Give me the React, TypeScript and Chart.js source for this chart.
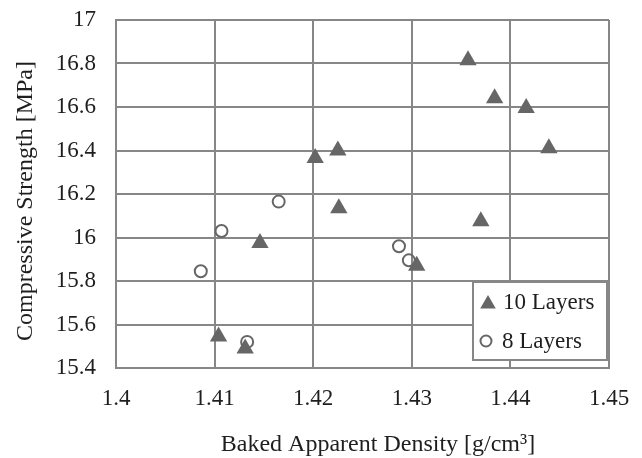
import React, { useEffect, useRef } from 'react';
import { Chart, registerables } from 'chart.js';

Chart.register(...registerables);

// ---- Data ----
const xTicks = [1.4, 1.41, 1.42, 1.43, 1.44, 1.45];
const xTickLabels = ['1.4', '1.41', '1.42', '1.43', '1.44', '1.45'];
const yTicks = [15.4, 15.6, 15.8, 16, 16.2, 16.4, 16.6, 16.8, 17];
const yTickLabels = ['15.4', '15.6', '15.8', '16', '16.2', '16.4', '16.6', '16.8', '17'];

const seriesNames = ['10 Layers', '8 Layers'];

const tenLayersX = [1.4357, 1.4384, 1.4416, 1.4439, 1.4202, 1.4225, 1.4226, 1.4146, 1.4370, 1.4305, 1.4104, 1.4131];
const tenLayersY = [16.815, 16.64, 16.595, 16.41, 16.365, 16.40, 16.135, 15.975, 16.075, 15.87, 15.545, 15.49];

const eightLayersX = [1.4165, 1.4107, 1.4086, 1.4133, 1.4287, 1.4297];
const eightLayersY = [16.165, 16.03, 15.845, 15.52, 15.96, 15.895];

const xAxisTitle = 'Baked Apparent Density [g/cm³]';
const yAxisTitle = 'Compressive Strength [MPa]';

const FONT = "'Liberation Serif', 'Times New Roman', serif";
const TEXT = '#1e1e1e';
const GRID = '#878787';
const MARK = '#666666';

const toPoints = (xs: number[], ys: number[]) => xs.map((x, i) => ({ x, y: ys[i] }));

const overlayPlugin = {
  id: 'overlay',
  afterDraw(chart: any) {
    const ctx = chart.ctx as CanvasRenderingContext2D;
    const area = chart.chartArea;
    ctx.save();
    // axis titles
    ctx.fillStyle = TEXT;
    ctx.font = `24px ${FONT}`;
    ctx.textAlign = 'center';
    ctx.textBaseline = 'alphabetic';
    ctx.fillText(xAxisTitle, 378, 451);
    ctx.save();
    ctx.translate(32, 201);
    ctx.rotate(-Math.PI / 2);
    ctx.fillText(yAxisTitle, 0, 0);
    ctx.restore();

    // legend box
    const bw = 134;
    const bh = 78;
    const bx = area.right - 2 - bw;
    const by = area.bottom - 8 - bh;
    ctx.fillStyle = '#ffffff';
    ctx.fillRect(bx, by, bw, bh);
    ctx.strokeStyle = GRID;
    ctx.lineWidth = 2;
    ctx.strokeRect(bx, by, bw, bh);

    // triangle marker
    const tx = bx + 15;
    const ty = by + 22;
    const r = 9;
    ctx.beginPath();
    ctx.moveTo(tx, ty - r);
    ctx.lineTo(tx + r * Math.sin((2 * Math.PI) / 3), ty + r / 2);
    ctx.lineTo(tx - r * Math.sin((2 * Math.PI) / 3), ty + r / 2);
    ctx.closePath();
    ctx.fillStyle = MARK;
    ctx.fill();

    // circle marker
    ctx.beginPath();
    ctx.arc(bx + 13, by + 59, 5.5, 0, Math.PI * 2);
    ctx.strokeStyle = MARK;
    ctx.lineWidth = 2;
    ctx.stroke();

    ctx.fillStyle = TEXT;
    ctx.font = `23px ${FONT}`;
    ctx.textAlign = 'left';
    ctx.textBaseline = 'alphabetic';
    ctx.fillText(seriesNames[0], bx + 30, by + 27);
    ctx.fillText(seriesNames[1], bx + 29, by + 66);
    ctx.restore();
  },
};

export default function App() {
  const ref = useRef<HTMLCanvasElement | null>(null);

  useEffect(() => {
    if (!ref.current) return;
    const chart = new Chart(ref.current, {
      type: 'scatter',
      data: {
        datasets: [
          {
            label: seriesNames[1],
            data: toPoints(eightLayersX, eightLayersY),
            pointStyle: 'circle',
            pointRadius: 6,
            pointBorderWidth: 2,
            pointBackgroundColor: 'rgba(0,0,0,0)',
            pointBorderColor: MARK,
            order: 0,
          },
          {
            label: seriesNames[0],
            data: toPoints(tenLayersX, tenLayersY),
            pointStyle: 'triangle',
            pointRadius: 10,
            pointBorderWidth: 0,
            pointBackgroundColor: MARK,
            pointBorderColor: MARK,
            order: 1,
          },
        ],
      },
      options: {
        responsive: false,
        animation: false,
        devicePixelRatio: 1,
        layout: { padding: { left: 0, right: 33, top: 20, bottom: 0 } },
        plugins: {
          legend: { display: false },
          tooltip: { enabled: false },
          title: { display: false },
        },
        scales: {
          x: {
            type: 'linear',
            min: 1.4,
            max: 1.45,
            afterBuildTicks: (scale: any) => {
              scale.ticks = xTicks.map((v) => ({ value: v }));
            },
            afterFit: (scale: any) => {
              scale.height = 90;
              scale.paddingLeft = 0;
              scale.paddingRight = 0;
            },
            ticks: {
              autoSkip: false,
              maxRotation: 0,
              minRotation: 0,
              padding: 17,
              color: TEXT,
              font: { family: FONT, size: 23 },
              callback: (_v: any, i: number) => xTickLabels[i],
            },
            grid: { color: GRID, lineWidth: 2, drawTicks: false },
            border: { color: GRID, width: 2 },
          },
          y: {
            type: 'linear',
            min: 15.4,
            max: 17,
            afterBuildTicks: (scale: any) => {
              scale.ticks = yTicks.map((v) => ({ value: v }));
            },
            afterFit: (scale: any) => {
              scale.width = 116;
              scale.paddingTop = 0;
              scale.paddingBottom = 0;
            },
            ticks: {
              autoSkip: false,
              padding: 20,
              color: TEXT,
              font: { family: FONT, size: 23 },
              callback: (_v: any, i: number) => yTickLabels[i],
            },
            grid: { color: GRID, lineWidth: 2, drawTicks: false },
            border: { color: GRID, width: 2 },
          },
        },
      },
      plugins: [overlayPlugin],
    });
    return () => chart.destroy();
  }, []);

  return (
    <div style={{ position: 'absolute', left: 0, top: 0, width: 642, height: 458, background: '#fff' }}>
      <canvas ref={ref} width={642} height={458} />
    </div>
  );
}
